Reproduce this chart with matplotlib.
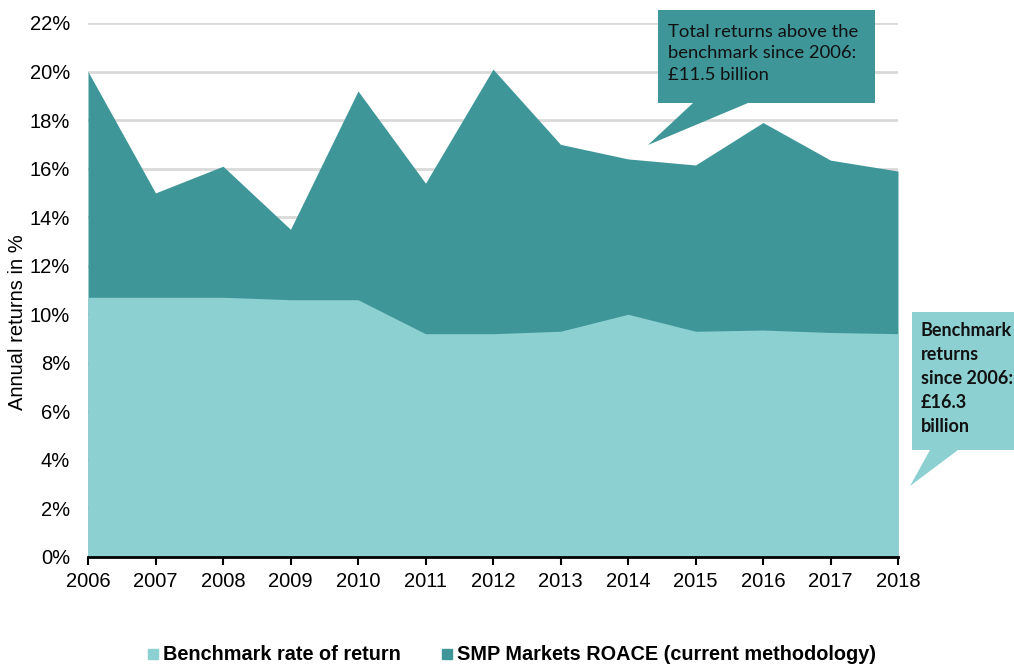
import matplotlib
matplotlib.use("Agg")
import matplotlib.pyplot as plt
from matplotlib.patches import Polygon
from matplotlib.lines import Line2D
from matplotlib.ticker import FuncFormatter

# values (annual returns, %)
years = [2006, 2007, 2008, 2009, 2010, 2011, 2012, 2013, 2014, 2015, 2016, 2017, 2018]
benchmark = [10.7, 10.7, 10.7, 10.6, 10.6, 9.2, 9.2, 9.3, 10.0, 9.3, 9.35, 9.25, 9.2]
roace = [20.0, 15.0, 16.1, 13.5, 19.2, 15.4, 20.1, 17.0, 16.4, 16.15, 17.9, 16.35, 15.9]
labels = ["Benchmark rate of return", "SMP Markets ROACE (current methodology)"]

dark = "#3e9699"
light = "#8dd0d2"

plt.rcParams["font.family"] = ["Liberation Sans", "DejaVu Sans"]

W, H = 1014, 664
fig = plt.figure(figsize=(W / 100, H / 100), dpi=100)
ax = fig.add_axes([88 / W, 1 - 557 / H, (898 - 88) / W, (557 - 23) / H])

ax.fill_between(years, 0, roace, color=dark, lw=0)
ax.fill_between(years, 0, benchmark, color=light, lw=0)

ax.set_xlim(2006, 2018)
ax.set_ylim(0, 22)
ax.set_yticks(range(0, 23, 2))
ax.yaxis.set_major_formatter(FuncFormatter(lambda v, p: "%d%%" % v))
ax.set_xticks(years)
ax.grid(axis="y", color="#d9d9d9", lw=2)
ax.set_axisbelow(True)
for s in ["left", "right", "top"]:
    ax.spines[s].set_visible(False)
ax.spines["bottom"].set_linewidth(2)
ax.spines["bottom"].set_zorder(5)
ax.tick_params(axis="y", length=0, labelsize=14.5, pad=13)
ax.tick_params(axis="x", direction="out", length=6, width=1.5, labelsize=14.5, pad=5)
fig.text(18 / W, 1 - 322 / H, "Annual returns in %", rotation=90, ha="center", va="center", fontsize=14.5)

# legend
handles = [Line2D([], [], marker="s", ls="", ms=7.5, color=light),
           Line2D([], [], marker="s", ls="", ms=7.5, color=dark)]
fig.legend(handles, labels, loc="center", bbox_to_anchor=(511 / W, 1 - 655 / H), ncol=2,
           frameon=False, prop={"weight": "bold", "size": 14.3}, handletextpad=0.15,
           columnspacing=2.0, handlelength=0.7)


def px(x, y):
    return (x / W, 1 - y / H)


# callout 1: above benchmark
c1 = [px(658, 10), px(875, 10), px(875, 103), px(748, 103), px(648, 145), px(693, 103), px(658, 103)]
fig.add_artist(Polygon(c1, closed=True, transform=fig.transFigure, facecolor=dark, edgecolor="none"))
fig.text(668 / W, 1 - 24 / H, "Total returns above the\nbenchmark since 2006:\n£11.5 billion",
         ha="left", va="top", fontsize=13.3, family=["Lato", "DejaVu Sans"], color="#111111",
         linespacing=1.42)

# callout 2: benchmark
c2 = [px(912, 312), px(1020, 312), px(1020, 450), px(958, 450), px(910, 486), px(930, 450), px(912, 450)]
fig.add_artist(Polygon(c2, closed=True, transform=fig.transFigure, facecolor=light, edgecolor="none"))
fig.text(921 / W, 1 - 322 / H, "Benchmark\nreturns\nsince 2006:\n£16.3\nbillion",
         ha="left", va="top", fontsize=13, family=["Lato", "DejaVu Sans"], weight="bold",
         color="#111111", linespacing=1.5)

fig.savefig("out.png", dpi=100)
